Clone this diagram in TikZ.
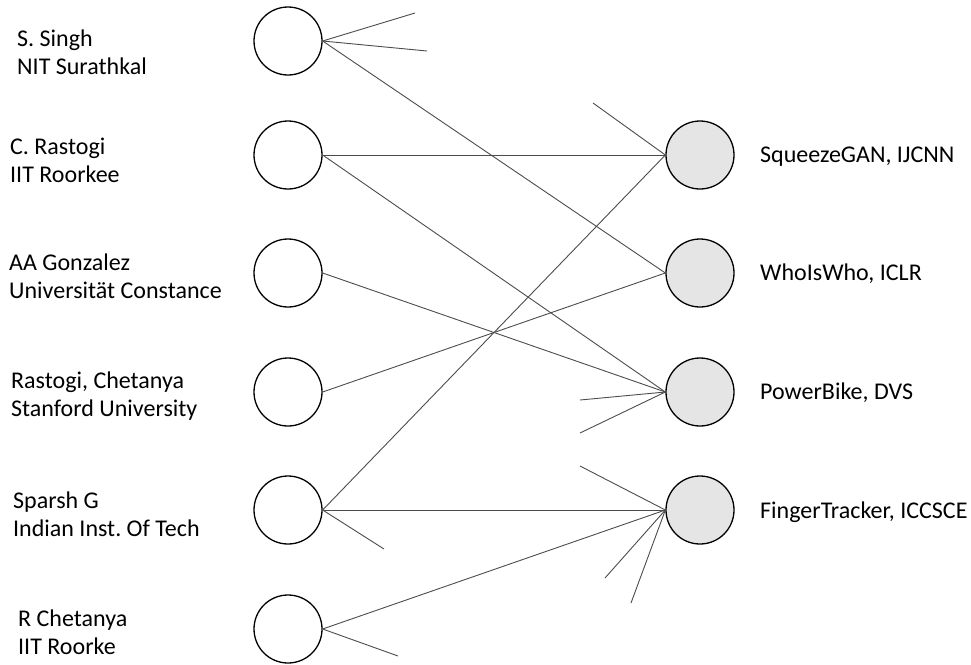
\documentclass[tikz,border=0pt]{standalone}
\usepackage{fontspec}
\setmainfont{Carlito}
\frenchspacing
\begin{document}
\begin{tikzpicture}[x=1pt,y=-1pt,
  author/.style={circle,draw=black,line width=1.3pt,minimum size=68pt,inner sep=0pt,fill=white},
  paper/.style={circle,draw=black,line width=1.3pt,minimum size=68pt,inner sep=0pt,fill=black!10},
  lbl/.style={anchor=west,align=left,font=\fontsize{24}{28}\selectfont,inner sep=0pt},
  edge/.style={draw=black!70,line width=0.9pt}]
\useasboundingbox (0,0) rectangle (971,664);
% authors
\node[author] (L1) at (288,41) {};
\node[author] (L2) at (288,155) {};
\node[author] (L3) at (288,273) {};
\node[author] (L4) at (288,392) {};
\node[author] (L5) at (288,510) {};
\node[author] (L6) at (288,629) {};
% papers
\node[paper] (R1) at (700,155) {};
\node[paper] (R2) at (700,273) {};
\node[paper] (R3) at (700,392) {};
\node[paper] (R4) at (700,510) {};
% labels
\node[lbl] (t1) at (17,52) {S. Singh\\NIT Surathkal};
\node[lbl] (t2) at (10,160) {C. Rastogi\\IIT Roorkee};
\node[lbl] (t3) at (9,276) {AA Gonzalez\\Universität Constance};
\node[lbl] (t4) at (11,396) {Rastogi, Chetanya\\Stanford University};
\node[lbl] (t5) at (13,514) {Sparsh G\\Indian Inst. Of Tech};
\node[lbl] (t6) at (18,632) {R Chetanya\\IIT Roorke};
\node[lbl] (p1) at (760,157) {SqueezeGAN, IJCNN};
\node[lbl] (p2) at (760,274) {WhoIsWho, ICLR};
\node[lbl] (p3) at (760,393) {PowerBike, DVS};
\node[lbl] (p4) at (760,512) {FingerTracker, ICCSCE};
% stub end points
\coordinate (s1) at (415,13);
\coordinate (s2) at (427,51);
\coordinate (s3) at (384,549);
\coordinate (s4) at (398,656);
\coordinate (s5) at (593,103);
\coordinate (s6) at (580,400);
\coordinate (s7) at (580,433);
\coordinate (s8) at (580,466);
\coordinate (s9) at (605,578);
\coordinate (s10) at (631,603);
% edges
\draw[edge] (L1.east) -- (s1);
\draw[edge] (L1.east) -- (s2);
\draw[edge] (L1.east) -- (R2.west);
\draw[edge] (L2.east) -- (R1.west);
\draw[edge] (L2.east) -- (R3.west);
\draw[edge] (L3.east) -- (R3.west);
\draw[edge] (L4.east) -- (R2.west);
\draw[edge] (L5.east) -- (R1.west);
\draw[edge] (L5.east) -- (R4.west);
\draw[edge] (L5.east) -- (s3);
\draw[edge] (L6.east) -- (R4.west);
\draw[edge] (L6.east) -- (s4);
\draw[edge] (R1.west) -- (s5);
\draw[edge] (R3.west) -- (s6);
\draw[edge] (R3.west) -- (s7);
\draw[edge] (R4.west) -- (s8);
\draw[edge] (R4.west) -- (s9);
\draw[edge] (R4.west) -- (s10);
\end{tikzpicture}
\end{document}
